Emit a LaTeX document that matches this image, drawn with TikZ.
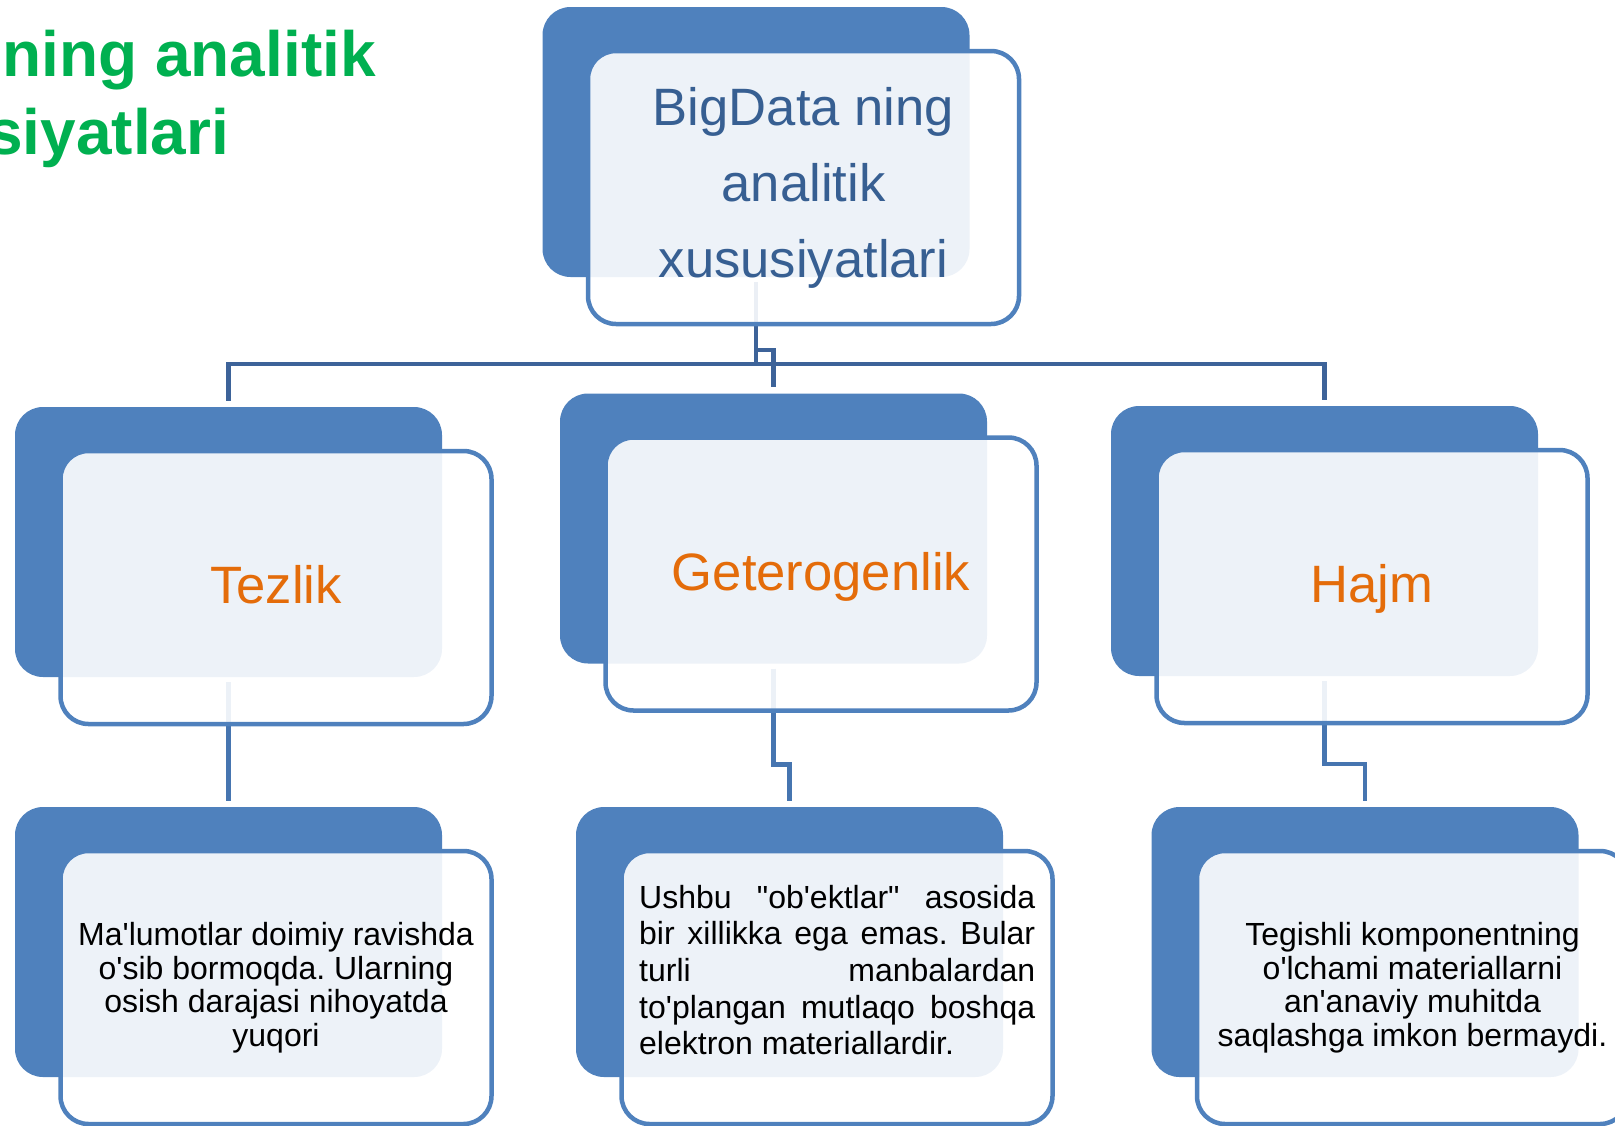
\documentclass[tikz,border=0pt]{standalone}
\usepackage{fontspec}
\usetikzlibrary{calc}
\newfontfamily\lsans{Liberation Sans}
\frenchspacing
\definecolor{boxblue}{HTML}{4F81BD}
\definecolor{linkdark}{HTML}{3D6399}
\definecolor{linkmid}{HTML}{4675B0}
\definecolor{headblue}{HTML}{375F92}
\definecolor{headorange}{HTML}{E46C0A}
\definecolor{titlegreen}{HTML}{00B050}
\tikzset{
  backbox/.style={rectangle, rounded corners=28pt, fill=boxblue, draw=none,
    minimum width=427pt, minimum height=270pt, inner sep=0pt},
  frontbox/.style={rectangle, rounded corners=28pt, draw=boxblue, line width=4.5pt,
    fill=white, fill opacity=0.9, text opacity=1,
    minimum width=431pt, minimum height=273pt, inner sep=0pt},
  headtext/.style={font=\lsans\fontsize{52.6}{76}\selectfont, text=headblue, align=center},
  cattext/.style={font=\lsans\fontsize{52.6}{76}\selectfont, text=headorange,
    text height=38pt, text depth=6pt},
  desctext/.style={font=\lsans\fontsize{32}{33.5}\selectfont, text=black, align=center},
  justtext/.style={font=\lsans\fontsize{32}{36.7}\selectfont, text=black, align=left,
    inner sep=0pt},
  titletext/.style={font=\lsans\bfseries\fontsize{64}{78}\selectfont, text=titlegreen,
    inner sep=0pt},
  toplink/.style={draw=linkdark, line width=4.5pt},
  sublink/.style={draw=linkmid, line width=4.5pt}
}
\begin{document}
\begin{tikzpicture}[x=1pt, y=-1pt]
\useasboundingbox (0,0) rectangle (1615,1125);

% slide title, running off the left edge
\node[titletext, anchor=base east] (ttl1) at (376,76) {ning analitik};
\node[titletext, anchor=base west] (ttl2) at (-13,154) {siyatlari};

% solid back plates
\node[backbox] (topB) at (756,142) {};
\node[backbox] (tezB) at (228.5,542) {};
\node[backbox] (getB) at (773.5,528.5) {};
\node[backbox] (hajB) at (1324.5,541) {};
\node[backbox] (d1B) at (228.5,942) {};
\node[backbox] (d2B) at (789.5,942) {};
\node[backbox] (d3B) at (1365,942) {};

% elbow connectors (drawn before the translucent front cards)
\draw[toplink] ($(topB.south)+(0,5)$) -- ++(0,82) -| ($(tezB.north)+(0,-6)$);
\draw[toplink] ($(topB.south)+(0,5)$) -- ++(0,68) -| ($(getB.north)+(0,-6)$);
\draw[toplink] ($(topB.south)+(0,5)$) -- ++(0,82) -| ($(hajB.north)+(0,-6)$);
\draw[sublink] ($(tezB.south)+(0,5)$) -- ($(d1B.north)+(0,-6)$);
\draw[sublink] ($(getB.south)+(0,5)$) -- ++(0,96) -| ($(d2B.north)+(0,-6)$);
\draw[sublink] ($(hajB.south)+(0,5)$) -- ++(0,83) -| ($(d3B.north)+(0,-6)$);

% translucent front cards with their texts
\node[frontbox, headtext] (topF) at ($(topB.center)+(47.5,45.5)$)
  {BigData ning\\analitik\\xususiyatlari};
\node[frontbox, cattext] (tezF) at ($(tezB.center)+(47.5,45.5)$) {Tezlik};
\node[frontbox, cattext] (getF) at ($(getB.center)+(47.5,45.5)$) {Geterogenlik};
\node[frontbox, cattext] (hajF) at ($(hajB.center)+(47.5,45.5)$) {Hajm};
\node[frontbox, desctext] (d1F) at ($(d1B.center)+(47.5,45.5)$)
  {Ma'lumotlar doimiy ravishda\\o'sib bormoqda. Ularning\\osish darajasi nihoyatda\\yuqori};
\node[frontbox] (d2F) at ($(d2B.center)+(47.5,45.5)$) {};
\node[frontbox, desctext] (d3F) at ($(d3B.center)+(47.5,45.5)$)
  {Tegishli komponentning\\o'lchami materiallarni\\an'anaviy muhitda\\saqlashga imkon bermaydi.};

% justified paragraph of the middle card
\node[justtext, anchor=north west] (d2T) at ($(d2F.center)+(-198,-102.8)$)
  {\makebox[396pt][s]{Ushbu "ob'ektlar" asosida}\\
   \makebox[396pt][s]{bir xillikka ega emas. Bular}\\
   \makebox[396pt][s]{turli manbalardan}\\
   \makebox[396pt][s]{to'plangan mutlaqo boshqa}\\
   elektron materiallardir.};
\end{tikzpicture}
\end{document}
